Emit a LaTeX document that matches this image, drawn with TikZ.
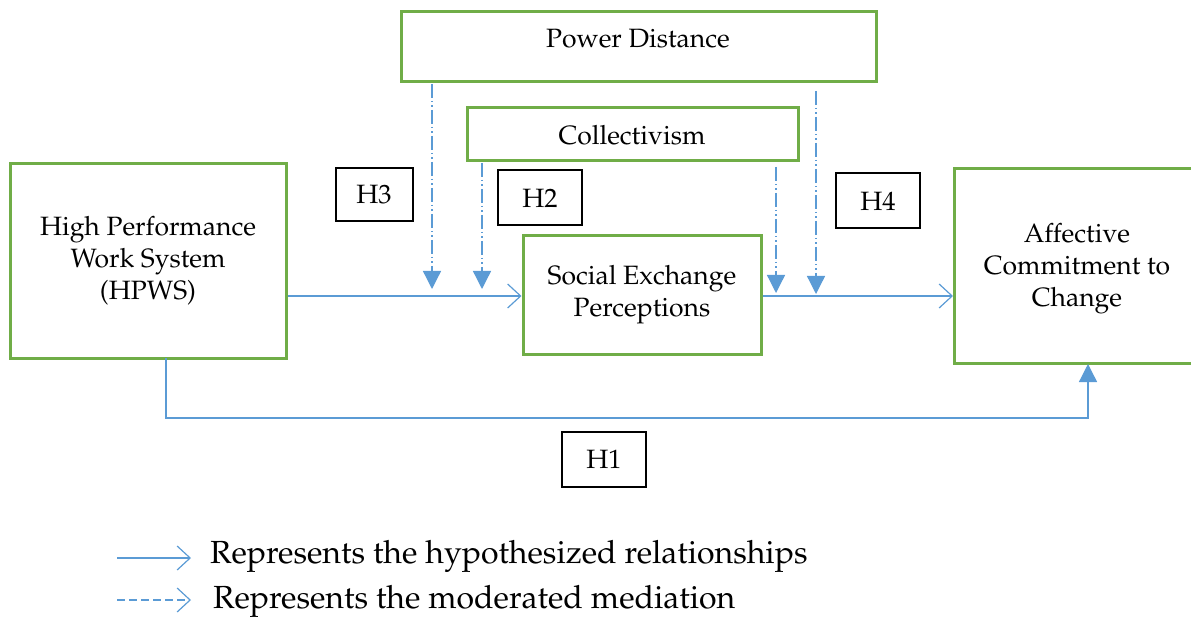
\documentclass[tikz,border=0pt]{standalone}
\usepackage[T1]{fontenc}
\usepackage{mathpazo}
\usetikzlibrary{arrows.meta}
\definecolor{boxgreen}{RGB}{112,173,71}
\definecolor{lineblue}{RGB}{91,155,213}
\begin{document}
\begin{tikzpicture}[x=1pt,y=-1pt,
  boxfont/.style={font=\fontsize{26.5}{32}\selectfont},
  varbox/.style={draw=boxgreen,line width=3pt,align=center,boxfont},
  hbox/.style={draw=black,line width=2pt,boxfont},
  rel/.style={draw=lineblue,line width=1.3pt,-{Straight Barb[length=13pt,width=24pt,line width=1.2pt]}},
  modline/.style={draw=lineblue,line width=1.3pt,dash pattern=on 14pt off 3pt on 1.5pt off 3pt on 1.5pt off 3pt,-{Triangle[width=18pt,length=18pt]}},
  dirline/.style={draw=lineblue,line width=1.3pt,-{Triangle[width=18pt,length=18pt]}},
  legtext/.style={anchor=west,font=\fontsize{32}{36}\selectfont,inner sep=0pt}]
\useasboundingbox (0,0) rectangle (1191,617);
% boxes
\draw[varbox] (401,12) rectangle (876,82);
\node[boxfont] (pd) at (638,39) {Power Distance};
\draw[varbox] (467,108) rectangle (798,161);
\node[boxfont] (col) at (632,135) {Collectivism};
\node[varbox,minimum width=276pt,minimum height=195pt] (hpws) at (148,261) {High Performance\\Work System\\(HPWS)};
\node[varbox,minimum width=238pt,minimum height=119pt] (sep) at (642,295) {Social Exchange\\Perceptions};
\node[varbox,minimum width=250pt,minimum height=195pt,text width=200pt,anchor=west] (acc) at (953,266) {};
\node[boxfont,align=center] (acct) at (1077,269) {Affective\\Commitment to\\Change};
\node[hbox,minimum width=77pt,minimum height=53pt] (h3) at (374,195) {H3};
\node[hbox,minimum width=84pt,minimum height=55pt] (h2) at (540,198) {H2};
\node[hbox,minimum width=84pt,minimum height=55pt] (h4) at (878,201) {H4};
\node[hbox,minimum width=84pt,minimum height=55pt] (h1) at (604,459) {H1};
% coordinates
\coordinate (pdA) at (432,84);
\coordinate (pdAe) at (432,289);
\coordinate (pdB) at (816,91);
\coordinate (pdBe) at (816,294);
\coordinate (colA) at (482,163);
\coordinate (colAe) at (482,289);
\coordinate (colB) at (776,167);
\coordinate (colBe) at (776,293);
\coordinate (h1s) at (166,358);
\coordinate (h1c) at (166,418);
\coordinate (h1d) at (1088,418);
\coordinate (h1e) at (1088,364);
% connectors
\draw[rel] (hpws.east |- 0,296) -- (sep.west |- 0,296);
\draw[rel] (sep.east |- 0,296) -- (acc.west |- 0,296);
\draw[modline] (pdA) -- (pdAe);
\draw[modline] (pdB) -- (pdBe);
\draw[modline] (colA) -- (colAe);
\draw[modline] (colB) -- (colBe);
\draw[dirline] (h1s) -- (h1c) -- (h1d) -- (h1e);
% legend
\coordinate (l1a) at (117,558);
\coordinate (l1b) at (191,558);
\coordinate (l2a) at (117,600);
\coordinate (l2b) at (191,600);
\draw[rel] (l1a) -- (l1b);
\draw[rel,dash pattern=on 8pt off 4pt] (l2a) -- (l2b);
\node[legtext] (leg1) at (210,556) {Represents the hypothesized relationships};
\node[legtext] (leg2) at (213,601) {Represents the moderated mediation};
\end{tikzpicture}
\end{document}
